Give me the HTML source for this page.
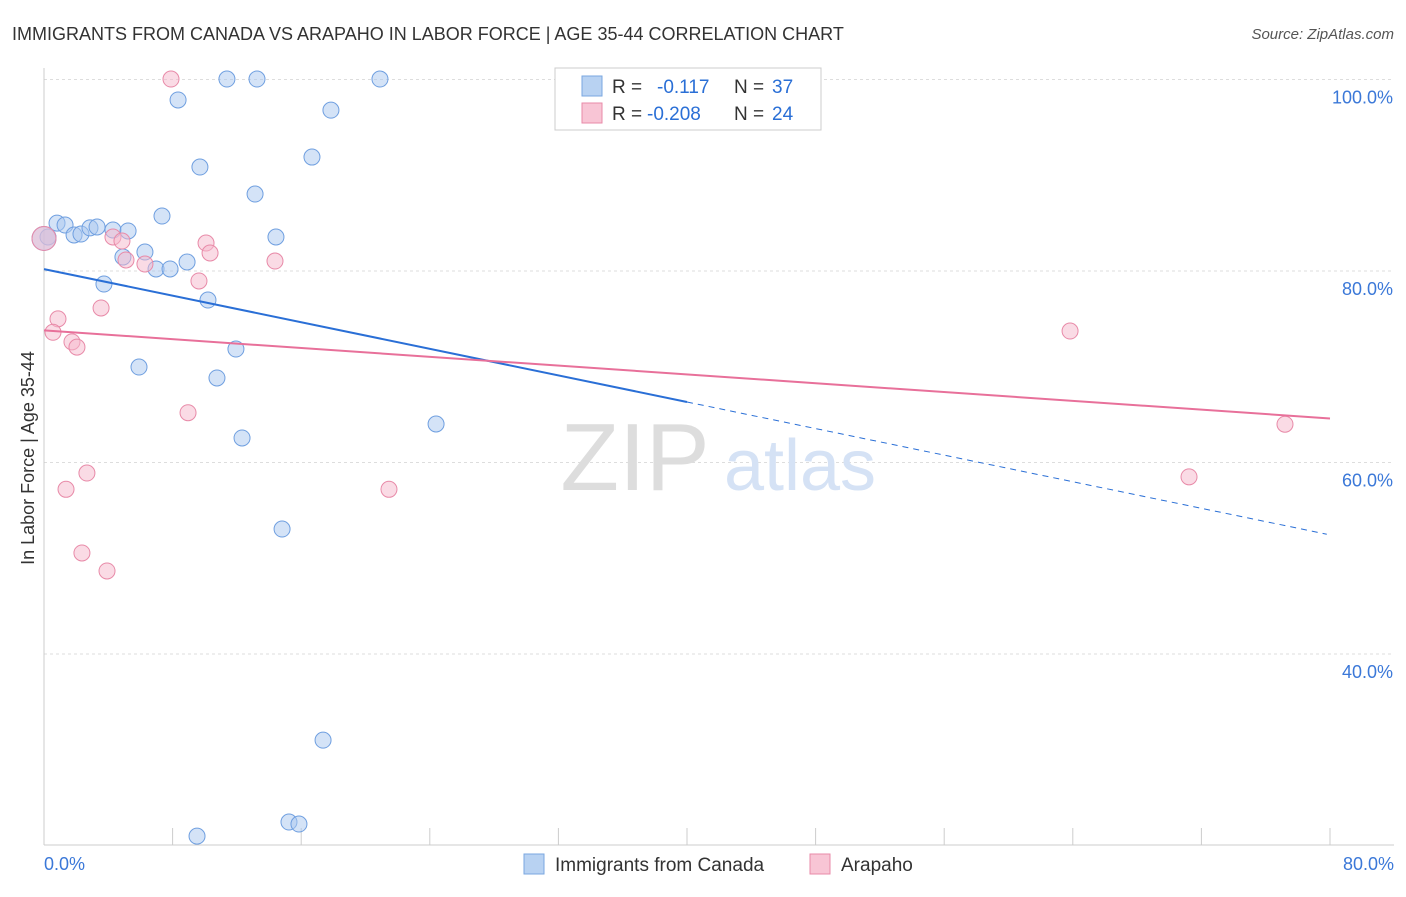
<!DOCTYPE html>
<html><head><meta charset="utf-8"><style>
body{margin:0;background:#fff;font-family:"Liberation Sans",sans-serif;}
svg text{font-family:"Liberation Sans",sans-serif;}
</style></head><body>
<svg id="chart" width="1406" height="892" xmlns="http://www.w3.org/2000/svg">
<text x="12" y="40" font-size="18" fill="#333">IMMIGRANTS FROM CANADA VS ARAPAHO IN LABOR FORCE | AGE 35-44 CORRELATION CHART</text>
<text x="1394" y="39" font-size="15" fill="#555" text-anchor="end" font-style="italic">Source: ZipAtlas.com</text>
<text x="34" y="458" font-size="18" fill="#333" text-anchor="middle" transform="rotate(-90 34 458)">In Labor Force | Age 35-44</text>
<g id="grid"></g>
<g><text x="635" y="490" font-size="96" fill="#ddd" font-family="Liberation Serif" text-anchor="middle">ZIP</text><text x="800" y="490" font-size="72" fill="#d5e2f5" text-anchor="middle">atlas</text></g>
<g id="marks"></g>
<g>
<rect x="555" y="68" width="266" height="62" fill="#fff" stroke="#ccc"/>
<rect x="582" y="76" width="20" height="20" fill="#b8d2f2" stroke="#7aa7e0"/>
<rect x="582" y="103" width="20" height="20" fill="#f8c5d5" stroke="#e88aa8"/>
<text x="612" y="93" font-size="19" fill="#333">R =</text><text x="657" y="93" font-size="19" fill="#2a6fd6">-0.117</text>
<text x="734" y="93" font-size="19" fill="#333">N =</text><text x="772" y="93" font-size="19" fill="#2a6fd6">37</text>
<text x="612" y="120" font-size="19" fill="#333">R =</text><text x="647" y="120" font-size="19" fill="#2a6fd6">-0.208</text>
<text x="734" y="120" font-size="19" fill="#333">N =</text><text x="772" y="120" font-size="19" fill="#2a6fd6">24</text>
</g>
<g>
<rect x="524" y="854" width="20" height="20" fill="#b8d2f2" stroke="#7aa7e0"/>
<text x="555" y="871" font-size="19" fill="#333">Immigrants from Canada</text>
<rect x="810" y="854" width="20" height="20" fill="#f8c5d5" stroke="#e88aa8"/>
<text x="841" y="871" font-size="19" fill="#333">Arapaho</text>
</g>
<text x="44" y="870" font-size="18" fill="#3b78d8">0.0%</text>
<text x="1394" y="870" font-size="18" fill="#3b78d8" text-anchor="end">80.0%</text>
</svg>
<script>
const canadaX=[0.25,0.81,1.31,1.87,2.30,2.86,3.30,4.29,5.23,6.28,4.91,6.97,7.84,8.90,7.34,9.70,8.34,11.38,13.25,20.9,17.85,16.67,13.13,14.43,10.2,3.73,5.91,10.76,11.94,12.32,24.39,14.81,17.36,9.52,15.24,15.86,0];
const canadaY=[83.55,85.0,84.8,83.76,83.86,84.5,84.6,84.28,84.18,81.98,81.46,80.21,80.21,80.94,85.74,90.86,97.86,100.05,100.05,100.05,96.8,91.9,88.04,83.55,76.97,78.64,69.97,68.83,71.85,62.56,64.02,53.05,31.0,20.98,22.45,22.24,83.4];
const arapahoX=[7.9,4.29,4.85,5.10,6.28,10.08,10.33,14.37,9.64,3.55,0.87,0.56,1.74,2.05,8.96,2.67,1.37,21.46,2.36,3.92,63.83,71.23,77.2,0];
const arapahoY=[100.05,83.55,83.13,81.15,80.73,82.92,81.88,81.04,78.96,76.14,75.0,73.6,72.6,72.05,65.2,58.9,57.2,57.2,50.55,48.67,73.73,58.5,64.0,83.4];
const yTicks=[100,80,60,40];
const yTickLabels=["100.0%","80.0%","60.0%","40.0%"];
const canadaTrend=[80.2,-0.347];
const arapahoTrend=[73.8,-0.115];
const NS="http://www.w3.org/2000/svg";
const sx=v=>44+v*16.075, sy=v=>79.5+(100-v)*9.575;
function mk(t,a,p){const e=document.createElementNS(NS,t);for(const k in a)e.setAttribute(k,a[k]);p.appendChild(e);return e;}
const grid=document.getElementById('grid'), marks=document.getElementById('marks');
yTicks.forEach((t,i)=>{
 const l=mk('line',{x1:44,x2:1394,y1:sy(t),y2:sy(t),stroke:'#ddd','stroke-dasharray':'3,3'},grid);
 
 
 const tx=mk('text',{x:1393,y:sy(t)+24,'font-size':18,fill:'#3b78d8','text-anchor':'end'},grid);
 tx.textContent=yTickLabels[i];
 
 
});
mk('line',{x1:44,x2:44,y1:68,y2:845,stroke:'#ccc'},grid);
mk('line',{x1:44,x2:1394,y1:845,y2:845,stroke:'#ccc'},grid);
for(let i=0;i<=10;i++){const x=sx(i*8);const l=mk('line',{x1:x,x2:x,y1:828,y2:845,stroke:'#ccc'},grid);
 
 }
function pts(X,Y,fill,stroke,name){X.forEach((x,i)=>{const r=i===X.length-1?12:8;
 const c=mk('circle',{cx:sx(x),cy:sy(Y[i]),r:r,fill:fill,'fill-opacity':0.5,stroke:stroke,'stroke-width':1},marks);
 
 });}
pts(canadaX,canadaY,'#a9c8f0','#6f9fe0','canada-point');
pts(arapahoX,arapahoY,'#f5b8cc','#e88aa8','arapaho-point');
const f=(t,x)=>t[0]+t[1]*x;
let l=mk('line',{x1:sx(0),y1:sy(f(canadaTrend,0)),x2:sx(40),y2:sy(f(canadaTrend,40)),stroke:'#2a6fd6','stroke-width':2},marks);


l=mk('line',{x1:sx(40),y1:sy(f(canadaTrend,40)),x2:sx(79.8),y2:sy(f(canadaTrend,79.8)),stroke:'#2a6fd6','stroke-width':1,'stroke-dasharray':'6,5'},marks);


l=mk('line',{x1:sx(0),y1:sy(f(arapahoTrend,0)),x2:sx(80),y2:sy(f(arapahoTrend,80)),stroke:'#e8709a','stroke-width':2},marks);


</script>
</body></html>
